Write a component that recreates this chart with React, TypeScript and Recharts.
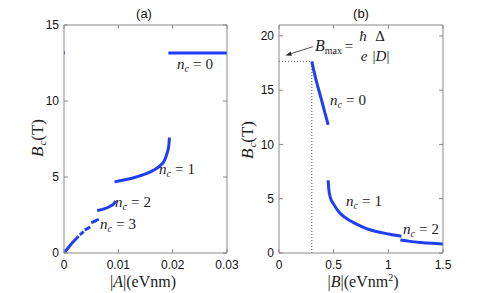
import React from 'react';
import { LineChart, Line, XAxis, YAxis, ReferenceLine } from 'recharts';

type Pt = { x: number; y: number };

// panel (a): B_c against |A|
const aXTicks = [0, 0.01, 0.02, 0.03];
const aYTicks = [0, 5, 10, 15];
const aNc0: Pt[] = [
  { x: 0.0192, y: 13.15 },
  { x: 0.025, y: 13.15 },
  { x: 0.03, y: 13.15 },
];
const aNc0Edge: Pt[] = [
  { x: 0, y: 13.15 },
  { x: 0.0002, y: 13.15 },
];
const aNc1: Pt[] = [
  { x: 0.0093, y: 4.68 },
  { x: 0.011, y: 4.8 },
  { x: 0.013, y: 4.97 },
  { x: 0.015, y: 5.2 },
  { x: 0.0165, y: 5.45 },
  { x: 0.0177, y: 5.75 },
  { x: 0.0185, y: 6.1 },
  { x: 0.019, y: 6.6 },
  { x: 0.0193, y: 7.1 },
  { x: 0.0194, y: 7.6 },
];
const aNc2: Pt[] = [
  { x: 0.0061, y: 2.8 },
  { x: 0.0075, y: 2.92 },
  { x: 0.0085, y: 3.08 },
  { x: 0.0092, y: 3.25 },
  { x: 0.0095, y: 3.42 },
];
const aNc3: Pt[] = [
  { x: 0.005, y: 2.0 },
  { x: 0.0057, y: 2.1 },
  { x: 0.0064, y: 2.22 },
];
const aNc4: Pt[] = [
  { x: 0.0038, y: 1.52 },
  { x: 0.0043, y: 1.6 },
  { x: 0.0048, y: 1.72 },
];
const aNc5: Pt[] = [
  { x: 0.0029, y: 1.2 },
  { x: 0.0033, y: 1.3 },
  { x: 0.0036, y: 1.42 },
];
const aHigh: Pt[] = [
  { x: 0, y: 0 },
  { x: 0.001, y: 0.45 },
  { x: 0.002, y: 0.85 },
  { x: 0.0027, y: 1.1 },
];
const aSeries = [aNc0Edge, aNc0, aNc1, aNc2, aNc3, aNc4, aNc5, aHigh];

// panel (b): B_c against |B|
const bXTicks = [0, 0.3, 0.5, 1, 1.5];
const bYTicks = [0, 5, 10, 15, 20];
const bDTick = 0.3;
const bNc0: Pt[] = [
  { x: 0.3, y: 17.65 },
  { x: 0.33, y: 16.3 },
  { x: 0.36, y: 15.15 },
  { x: 0.39, y: 14.05 },
  { x: 0.42, y: 12.9 },
  { x: 0.45, y: 11.8 },
];
const bNc1: Pt[] = [
  { x: 0.45, y: 6.7 },
  { x: 0.455, y: 5.9 },
  { x: 0.47, y: 5.1 },
  { x: 0.5, y: 4.5 },
  { x: 0.55, y: 3.75 },
  { x: 0.6, y: 3.3 },
  { x: 0.7, y: 2.7 },
  { x: 0.8, y: 2.25 },
  { x: 0.9, y: 1.95 },
  { x: 1.0, y: 1.75 },
  { x: 1.12, y: 1.55 },
];
const bNc2: Pt[] = [
  { x: 1.11, y: 1.2 },
  { x: 1.2, y: 1.07 },
  { x: 1.3, y: 0.97 },
  { x: 1.4, y: 0.89 },
  { x: 1.5, y: 0.82 },
];
const bSeries = [bNc0, bNc1, bNc2];
const bMax = 17.65;
const bArrow: Pt[] = [
  { x: 0.31, y: 19.0 },
  { x: 0.06, y: 18.2 },
];

const BLUE = '#1f3ff5';
const AXIS = '#8a8a8a';
const SANS = '"Liberation Sans", Arial, sans-serif';
const SERIF = '"Liberation Serif", "Times New Roman", serif';
const tickFont = { fontFamily: SANS, fontSize: 12, fill: '#111' };

const ArrowShape = (p: any) => {
  const { x1, y1, x2, y2 } = p;
  const ang = Math.atan2(y2 - y1, x2 - x1);
  const L = 6;
  const W = 2.2;
  const bx = x2 - L * Math.cos(ang);
  const by = y2 - L * Math.sin(ang);
  const pts = `${x2},${y2} ${bx - W * Math.sin(ang)},${by + W * Math.cos(ang)} ${bx + W * Math.sin(ang)},${by - W * Math.cos(ang)}`;
  return (
    <g>
      <line x1={x1} y1={y1} x2={bx} y2={by} stroke="#222" strokeWidth={0.8} />
      <polygon points={pts} fill="#222" />
    </g>
  );
};

const BTick = (props: any) => {
  const { x, y, payload } = props;
  if (payload.value === bDTick) {
    return (
      <text x={x} y={y} dy="0.71em" textAnchor="middle" fontFamily={SERIF} fontSize={13} fill="#111">
        |<tspan fontStyle="italic">D</tspan>|
      </text>
    );
  }
  return (
    <text x={x} y={y} dy="0.71em" textAnchor="middle" fontFamily={SANS} fontSize={12} fill="#111">
      {String(payload.value)}
    </text>
  );
};

function Nc({ x, y, n }: { x: number; y: number; n: number }) {
  return (
    <text x={x} y={y} fontFamily={SERIF} fontSize={15} fill="#222">
      <tspan fontStyle="italic">n</tspan>
      <tspan fontStyle="italic" fontSize={10} dy={3}>c</tspan>
      <tspan dy={-3} dx={4}>=</tspan>
      <tspan dx={4}>{n}</tspan>
    </text>
  );
}

function YLabel({ x, y }: { x: number; y: number }) {
  return (
    <text x={x} y={y} transform={`rotate(-90 ${x} ${y})`} textAnchor="middle" dy={5} fontFamily={SERIF} fontSize={17} fill="#222">
      <tspan fontStyle="italic">B</tspan>
      <tspan fontStyle="italic" fontSize={11} dx={1} dy={3}>c</tspan>
      <tspan dy={-3}>(T)</tspan>
    </text>
  );
}

export default function App() {
  return (
    <div style={{ position: 'absolute', left: 0, top: 0, width: 491, height: 293, background: '#fff', overflow: 'hidden' }}>
      <div style={{ position: 'absolute', left: 0, top: 0 }}>
        <LineChart width={245} height={293} margin={{ top: 24, right: 17, bottom: 10, left: 34 }}>
          <XAxis xAxisId="b" type="number" dataKey="x" domain={[0, 0.03]} ticks={aXTicks} allowDataOverflow height={30} stroke={AXIS} tickSize={-4} tickMargin={11} tick={tickFont} tickFormatter={(v: number) => String(v)} />
          <XAxis xAxisId="t" type="number" dataKey="x" orientation="top" domain={[0, 0.03]} ticks={aXTicks} allowDataOverflow height={1} stroke={AXIS} tickSize={-4} tickFormatter={() => ''} />
          <YAxis yAxisId="l" type="number" domain={[0, 15]} ticks={aYTicks} allowDataOverflow width={30} stroke={AXIS} tickSize={-4} tickMargin={9} tick={tickFont} />
          <YAxis yAxisId="r" type="number" orientation="right" domain={[0, 15]} ticks={aYTicks} allowDataOverflow width={1} stroke={AXIS} tickSize={-4} tickFormatter={() => ''} />
          {aSeries.map((d, i) => (
            <Line key={i} xAxisId="b" yAxisId="l" data={d} dataKey="y" type="monotone" stroke={BLUE} strokeWidth={3} dot={false} isAnimationActive={false} />
          ))}
        </LineChart>
      </div>
      <div style={{ position: 'absolute', left: 245, top: 0 }}>
        <LineChart width={246} height={293} margin={{ top: 24, right: 47, bottom: 10, left: 4 }}>
          <XAxis xAxisId="b" type="number" dataKey="x" domain={[0, 1.5]} ticks={bXTicks} allowDataOverflow height={30} stroke={AXIS} tickSize={-4} tickMargin={11} tick={<BTick />} />
          <XAxis xAxisId="t" type="number" dataKey="x" orientation="top" domain={[0, 1.5]} ticks={[0, 0.5, 1, 1.5]} allowDataOverflow height={1} stroke={AXIS} tickSize={-4} tickFormatter={() => ''} />
          <YAxis yAxisId="l" type="number" domain={[0, 21]} ticks={bYTicks} allowDataOverflow width={30} stroke={AXIS} tickSize={-4} tickMargin={9} tick={tickFont} />
          <YAxis yAxisId="r" type="number" orientation="right" domain={[0, 21]} ticks={bYTicks} allowDataOverflow width={1} stroke={AXIS} tickSize={-4} tickFormatter={() => ''} />
          <ReferenceLine xAxisId="b" yAxisId="l" segment={[{ x: 0, y: bMax }, { x: bDTick, y: bMax }]} stroke="#555" strokeDasharray="1 2" />
          <ReferenceLine xAxisId="b" yAxisId="l" segment={[{ x: bDTick, y: 0 }, { x: bDTick, y: bMax }]} stroke="#555" strokeDasharray="1 2" />
          <ReferenceLine xAxisId="b" yAxisId="l" segment={bArrow} shape={ArrowShape} />
          {bSeries.map((d, i) => (
            <Line key={i} xAxisId="b" yAxisId="l" data={d} dataKey="y" type="monotone" stroke={BLUE} strokeWidth={3} dot={false} isAnimationActive={false} />
          ))}
        </LineChart>
      </div>
      <svg width={491} height={293} style={{ position: 'absolute', left: 0, top: 0, pointerEvents: 'none' }}>
        <text x={144} y={13} textAnchor="middle" dominantBaseline="central" fontFamily={SANS} fontSize={13} fill="#111">(a)</text>
        <text x={361} y={13} textAnchor="middle" dominantBaseline="central" fontFamily={SANS} fontSize={13} fill="#111">(b)</text>
        <YLabel x={38} y={138} />
        <YLabel x={248} y={140} />
        <text x={143} y={287} textAnchor="middle" fontFamily={SERIF} fontSize={16} fill="#222">
          |<tspan fontStyle="italic">A</tspan>|(eVnm)
        </text>
        <text x={363} y={287} textAnchor="middle" fontFamily={SERIF} fontSize={16} fill="#222">
          |<tspan fontStyle="italic">B</tspan>|(eVnm<tspan fontSize={10} dy={-6}>2</tspan><tspan dy={6}>)</tspan>
        </text>
        <Nc x={177} y={69} n={0} />
        <Nc x={159} y={174} n={1} />
        <Nc x={115} y={207} n={2} />
        <Nc x={100} y={229} n={3} />
        <Nc x={330} y={105} n={0} />
        <Nc x={346} y={206} n={1} />
        <Nc x={403} y={234} n={2} />
        <text x={315} y={51} fontFamily={SERIF} fontSize={16} fill="#222">
          <tspan fontStyle="italic">B</tspan>
          <tspan fontSize={10} dy={3}>max</tspan>
        </text>
        <text x={349} y={51} textAnchor="middle" fontFamily={SERIF} fontSize={15} fill="#222">=</text>
        <text x={363} y={41} textAnchor="middle" fontFamily={SERIF} fontSize={15} fontStyle="italic" fill="#222">ħ</text>
        <text x={364} y={61} textAnchor="middle" fontFamily={SERIF} fontSize={15} fontStyle="italic" fill="#222">e</text>
        <text x={380} y={41} textAnchor="middle" fontFamily={SERIF} fontSize={15} fill="#222">Δ</text>
        <text x={381} y={61} textAnchor="middle" fontFamily={SERIF} fontSize={15} fill="#222">
          |<tspan fontStyle="italic">D</tspan>|
        </text>
      </svg>
    </div>
  );
}
